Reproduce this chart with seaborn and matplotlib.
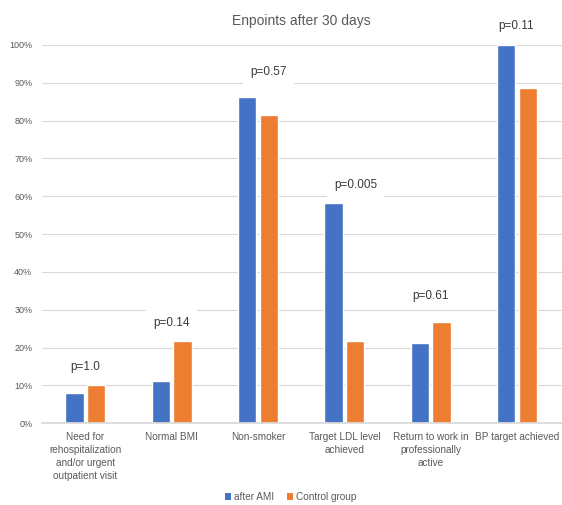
import matplotlib
matplotlib.use("Agg")
import matplotlib.pyplot as plt
import seaborn as sns
import pandas as pd
from matplotlib.ticker import PercentFormatter
from matplotlib.patches import Patch

categories = [
    "Need for\nrehospitalization\nand/or urgent\noutpatient visit",
    "Normal BMI",
    "Non-smoker",
    "Target LDL level\nachieved",
    "Return to work in\nprofessionally\nactive",
    "BP target achieved",
]
series_names = ["after AMI", "Control group"]
after_ami = [8.0, 11.1, 86.3, 58.3, 21.2, 100.0]
control_group = [10.0, 21.8, 81.5, 21.8, 26.8, 88.5]
p_values = ["p=1.0", "p=0.14", "p=0.57", "p=0.005", "p=0.61", "p=0.11"]

# placement of the p-value annotations (category offset, height in %)
p_label_dx = [0.0, 0.0, 0.12, 0.13, 0.0, -0.01]
p_label_y = [14.8, 26.5, 92.9, 63.0, 33.6, 105.0]

colors = ["#4472C4", "#ED7D31"]

df = pd.DataFrame({
    "category": categories * 2,
    "group": [series_names[0]] * len(categories) + [series_names[1]] * len(categories),
    "value": after_ami + control_group,
})

sns.set_theme(style="white")
plt.rcParams["font.family"] = ["Liberation Sans", "DejaVu Sans"]

fig = plt.figure(figsize=(5.62, 5.05), dpi=100)
ax = fig.add_axes([0.075, 0.162, 0.925, 0.749])

sns.barplot(data=df, x="category", y="value", hue="group", order=categories,
            hue_order=series_names, palette=colors, width=0.5, gap=0.15,
            saturation=1, ax=ax, legend=False)

ax.set_xlim(-0.5, 5.52)
ax.set_ylim(0, 100)
ax.set_yticks(range(0, 101, 10))
ax.yaxis.set_major_formatter(PercentFormatter(decimals=0))
ax.grid(axis="y", color="#D9D9D9", linewidth=0.8)
ax.set_axisbelow(True)
for s in ["left", "right", "top"]:
    ax.spines[s].set_visible(False)
ax.spines["bottom"].set_color("#D9D9D9")
ax.set_xlabel("")
ax.set_ylabel("")
ax.tick_params(axis="y", length=0, labelsize=6.5, colors="#595959", pad=7)
ax.tick_params(axis="x", length=0, labelsize=7.2, colors="#595959", pad=6)
for lab in ax.get_xticklabels():
    lab.set_linespacing(1.4)
    lab.set_verticalalignment("top")

for i, (txt, dx, yv) in enumerate(zip(p_values, p_label_dx, p_label_y)):
    ax.text(i + dx, yv, txt, ha="center", va="center", fontsize=8.5, color="#3A3A3A",
            bbox=dict(boxstyle="square,pad=0.6", fc="white", ec="none"),
            clip_on=False, zorder=5)

fig.text(0.537, 0.958, "Enpoints after 30 days", ha="center", va="center",
         fontsize=10, color="#595959")

handles = [Patch(facecolor=c, edgecolor="none") for c in colors]
fig.legend(handles, series_names, loc="center", bbox_to_anchor=(0.517, 0.016),
           ncol=2, frameon=False, fontsize=7.2, handlelength=0.6,
           handleheight=0.6, handletextpad=0.3, columnspacing=1.3,
           labelcolor="#595959")

fig.savefig("out.png", dpi=100, facecolor="white")
